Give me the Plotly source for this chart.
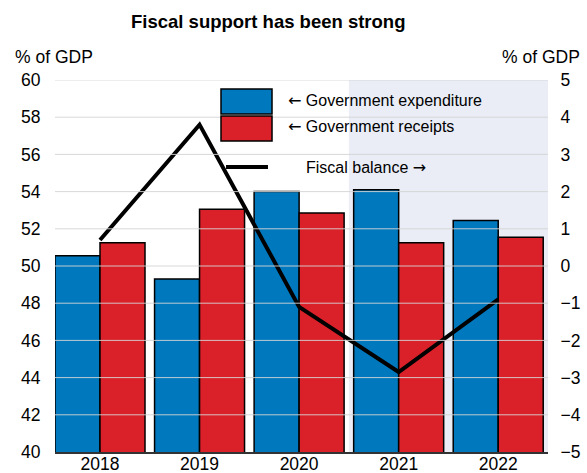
import plotly.graph_objects as go

# Data (% of GDP)
years = ["2018", "2019", "2020", "2021", "2022"]
expenditure = [50.55, 49.3, 54.0, 54.1, 52.45]
receipts = [51.25, 53.05, 52.85, 51.25, 51.55]
fiscal_balance = [0.7, 3.8, -1.1, -2.85, -0.9]

left_ticks = [40, 42, 44, 46, 48, 50, 52, 54, 56, 58, 60]
right_ticks = [-5, -4, -3, -2, -1, 0, 1, 2, 3, 4, 5]

BLUE = "#0078BE"
RED = "#DA2129"
SHADE = "#EAEDF6"
FONT = "Liberation Sans, Arial, sans-serif"
CLEAR = "rgba(0,0,0,0)"
LEFT_ARROW = '<span style="font-family:DejaVu Sans">\u2190</span> '
RIGHT_ARROW = ' <span style="font-family:DejaVu Sans">\u2192</span>'

fig = go.Figure()

fig.add_trace(go.Bar(
    x=years, y=expenditure, name="Government expenditure",
    marker=dict(color=BLUE, line=dict(color="black", width=1.5)),
    offsetgroup="exp",
))
fig.add_trace(go.Bar(
    x=years, y=receipts, name="Government receipts",
    marker=dict(color=RED, line=dict(color="black", width=1.5)),
    offsetgroup="rec",
))
fig.add_trace(go.Scatter(
    x=years, y=fiscal_balance, name="Fiscal balance", yaxis="y2",
    mode="lines", line=dict(color="black", width=4),
))

shapes = []
# forecast shading (2021 onwards)
shapes.append(dict(type="rect", xref="x", yref="paper", x0=2.5, x1=4.5, y0=0, y1=1,
                   fillcolor=SHADE, line=dict(width=0), layer="below"))
# horizontal gridlines drawn over the bars
for t in left_ticks[1:]:
    shapes.append(dict(type="line", xref="paper", yref="y", x0=0, x1=1, y0=t, y1=t,
                       line=dict(color="rgba(212,212,212,0.9)", width=1), layer="above"))

# hand-built key in paper coordinates
shapes.append(dict(type="rect", xref="paper", yref="paper", x0=0.3367, x1=0.4402,
                   y0=0.9086, y1=0.9758, fillcolor=BLUE, line=dict(color="black", width=1.5),
                   layer="above"))
shapes.append(dict(type="rect", xref="paper", yref="paper", x0=0.3367, x1=0.4402,
                   y0=0.8360, y1=0.9032, fillcolor=RED, line=dict(color="black", width=1.5),
                   layer="above"))
shapes.append(dict(type="line", xref="paper", yref="paper", x0=0.3469, x1=0.4320,
                   y0=0.7661, y1=0.7661, line=dict(color="black", width=4), layer="above"))

annotations = [
    dict(text="<b>Fiscal support has been strong</b>", xref="paper", yref="paper",
         x=0.432, y=1.156, xanchor="center", yanchor="middle", showarrow=False,
         font=dict(size=18.5, family=FONT, color="black")),
    dict(text="% of GDP", xref="paper", yref="paper", x=-0.0852, y=1.0618,
         xanchor="left", yanchor="middle", showarrow=False,
         font=dict(size=17.5, family=FONT, color="black")),
    dict(text="% of GDP", xref="paper", yref="paper", x=1.069, y=1.0618,
         xanchor="right", yanchor="middle", showarrow=False,
         font=dict(size=17.5, family=FONT, color="black")),
    dict(text=LEFT_ARROW + "Government expenditure", xref="paper", yref="paper",
         x=0.4686, y=0.9462, xanchor="left", yanchor="middle", showarrow=False,
         font=dict(size=16, family=FONT, color="black")),
    dict(text=LEFT_ARROW + "Government receipts", xref="paper", yref="paper",
         x=0.4686, y=0.8737, xanchor="left", yanchor="middle", showarrow=False,
         font=dict(size=16, family=FONT, color="black")),
    dict(text="Fiscal balance" + RIGHT_ARROW, xref="paper", yref="paper",
         x=0.5051, y=0.7661, xanchor="left", yanchor="middle", showarrow=False,
         font=dict(size=16, family=FONT, color="black")),
]

fig.update_layout(
    width=587, height=473,
    margin=dict(l=55, r=39, t=80, b=21),
    paper_bgcolor="white", plot_bgcolor="white",
    barmode="group", bargap=0.096, bargroupgap=0,
    showlegend=False,
    font=dict(family=FONT, size=17.5, color="black"),
    shapes=shapes, annotations=annotations,
    xaxis=dict(type="category", range=[-0.452, 4.5], showgrid=False,
               showline=True, linecolor="#333333", linewidth=1.5,
               ticks="", tickfont=dict(size=17.5), automargin=False,
               ticklabelstandoff=-5),
    yaxis=dict(range=[40, 60], tickvals=left_ticks, showgrid=False, zeroline=False,
               showline=False, ticks="outside", ticklen=10, tickcolor=CLEAR,
               tickfont=dict(size=17.5), automargin=False),
    yaxis2=dict(range=[-5, 5], tickvals=right_ticks, overlaying="y", side="right",
                anchor="x", showgrid=False, zeroline=False, showline=False,
                ticks="outside", ticklen=8, tickcolor=CLEAR,
                tickfont=dict(size=17.5), automargin=False),
)

fig.write_html("out.html")
